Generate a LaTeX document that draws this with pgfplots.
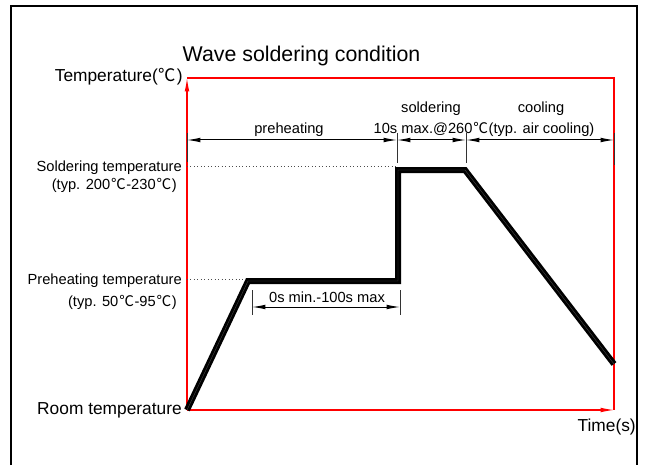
\documentclass[border=0pt]{standalone}
\usepackage{pgfplots}
\pgfplotsset{compat=1.18}
\usetikzlibrary{arrows.meta}
\usepackage{fontspec}
\setmainfont{Liberation Sans}
\newfontfamily\cjk{Noto Sans CJK SC}
\newcommand{\degC}{{\cjk\kern0.06em ℃\kern0.04em}}
\begin{document}
\begin{tikzpicture}
\begin{axis}[
  xmin=0, xmax=646, ymin=0, ymax=465,
  width=484.5pt, height=348.75pt, scale only axis,
  axis lines=none, ticks=none, clip=false,
]
\coordinate (BL) at (axis cs:0,0);
\coordinate (TR) at (axis cs:646,465);
% outer frame (open at bottom)
\draw[line width=1.5pt] (axis cs:11,0) -- (axis cs:11,459) -- (axis cs:637,459) -- (axis cs:637,0);
% red axes box
\draw[red, line width=0.8pt] (axis cs:187,387) -- (axis cs:614,387) -- (axis cs:614,55);
\draw[red, line width=0.8pt, -{Latex[length=10pt,width=3.5pt]}] (axis cs:187,55) -- (axis cs:187,387);
\draw[red, line width=0.8pt, -{Latex[length=10pt,width=3.5pt]}] (axis cs:187,55) -- (axis cs:614,55);
% dotted guide lines
\draw[black!70, dotted, line width=0.6pt] (axis cs:187,299) -- (axis cs:396,299);
\draw[black!70, dotted, line width=0.6pt] (axis cs:187,186) -- (axis cs:247,186);
% profile
\addplot[black, line width=4.5pt, line join=miter] coordinates {
 (187,55) (248,184) (398,184) (398,295) (465,295) (614,101)
};
\addplot[black!70, line width=0.25pt, line join=miter] coordinates {
 (187,55) (248,184) (398,184) (398,295) (465,295) (614,101)
};
% top dimension ticks
\draw[black!80, line width=0.75pt] (axis cs:187,332) -- (axis cs:187,303);
\draw[black!80, line width=0.75pt] (axis cs:397,332) -- (axis cs:397,302);
\draw[black!80, line width=0.75pt] (axis cs:466,332) -- (axis cs:466,302);
\draw[black!80, line width=0.75pt] (axis cs:614,332) -- (axis cs:614,300);
% top dimension arrows
\draw[line width=0.75pt, {Latex[length=10pt,width=3.5pt]}-{Latex[length=10pt,width=3.5pt]}] (axis cs:187,325) -- (axis cs:397,325);
\draw[line width=0.75pt, {Latex[length=10pt,width=3.5pt]}-{Latex[length=10pt,width=3.5pt]}] (axis cs:397,325) -- (axis cs:466,325);
\draw[line width=0.75pt, {Latex[length=10pt,width=3.5pt]}-{Latex[length=10pt,width=3.5pt]}] (axis cs:466,325) -- (axis cs:614,325);
% bottom dimension
\draw[black!80, line width=0.75pt] (axis cs:252,175) -- (axis cs:252,150);
\draw[black!80, line width=0.75pt] (axis cs:400,175) -- (axis cs:400,150);
\draw[line width=0.75pt, {Latex[length=10pt,width=3.5pt]}-{Latex[length=10pt,width=3.5pt]}] (axis cs:252,158) -- (axis cs:400,158);
% texts
\node[anchor=base, inner sep=0, font=\fontsize{16}{19}\selectfont] at (axis cs:301.5,403) {Wave soldering condition};
\node[anchor=base east, inner sep=0, font=\fontsize{13}{15}\selectfont] at (axis cs:183,383) {Temperature(\degC)};
\node[anchor=base east, inner sep=0, font=\fontsize{13}{15}\selectfont] at (axis cs:182,51) {Room temperature};
\node[anchor=base east, inner sep=0, font=\fontsize{13}{15}\selectfont] at (axis cs:636,34) {Time(s)};
\node[anchor=base, inner sep=0, font=\fontsize{11}{13}\selectfont] at (axis cs:289,331) {preheating};
\node[anchor=base, inner sep=0, font=\fontsize{11}{13}\selectfont] at (axis cs:431,352) {soldering};
\node[anchor=base, inner sep=0, font=\fontsize{11}{13}\selectfont] at (axis cs:541,352) {cooling};
\node[anchor=base, inner sep=0, font=\fontsize{11}{13}\selectfont] at (axis cs:484,331) {10s max.@260\degC(typ. air cooling)};
\node[anchor=base, inner sep=0, font=\fontsize{11}{13}\selectfont] at (axis cs:327,163) {0s min.-100s max};
\node[anchor=base east, inner sep=0, font=\fontsize{11}{13}\selectfont] at (axis cs:182,294) {Soldering temperature};
\node[anchor=base east, inner sep=0, font=\fontsize{11}{13}\selectfont] at (axis cs:177,276) {(typ. 200\degC-230\degC)};
\node[anchor=base east, inner sep=0, font=\fontsize{11}{13}\selectfont] at (axis cs:182,181) {Preheating temperature};
\node[anchor=base east, inner sep=0, font=\fontsize{11}{13}\selectfont] at (axis cs:177,159) {(typ. 50\degC-95\degC)};
\end{axis}
\pgfresetboundingbox
\path (BL) rectangle (TR);
\end{tikzpicture}
\end{document}
